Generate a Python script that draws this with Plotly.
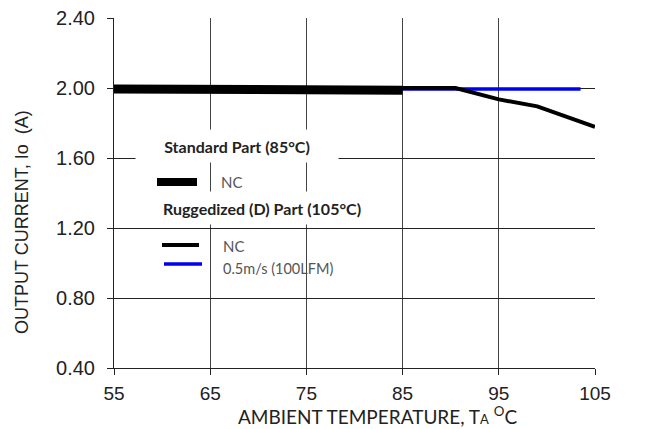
import plotly.graph_objects as go

# Datos de las curvas (temperatura ambiente en °C, corriente de salida en A)
std_temp = [55, 65, 75, 85]
std_io = [1.995, 1.992, 1.99, 1.987]

nc_temp = [55, 85, 90.5, 95, 99, 105]
nc_io = [2.0, 2.0, 2.0, 1.935, 1.895, 1.778]

air_temp = [55, 85, 103.5]
air_io = [1.995, 1.995, 1.995]

x_ticks = [55, 65, 75, 85, 95, 105]
y_ticks = [0.40, 0.80, 1.20, 1.60, 2.00, 2.40]
y_labels = ["0.40", "0.80", "1.20", "1.60", "2.00", "2.40"]

W, H = 657, 429
PL, PT, PW, PH = 114, 18, 481, 350   # área de trazado en píxeles


def px(x):
    return (x - PL) / PW


def py(y):
    return (PT + PH - y) / PH


fig = go.Figure()

fig.add_trace(go.Scatter(x=air_temp, y=air_io, mode='lines',
                         line=dict(color='#0000ee', width=3.5), showlegend=False))
fig.add_trace(go.Scatter(x=nc_temp, y=nc_io, mode='lines',
                         line=dict(color='black', width=4), showlegend=False))
fig.add_trace(go.Scatter(x=std_temp, y=std_io, mode='lines',
                         line=dict(color='black', width=9), showlegend=False))

# Leyenda dibujada a mano
title_font = dict(family='Lato', size=16, color='#222')
item_font = dict(family='Lato', size=15, color='#555')

annotations = [
    dict(x=px(237), y=py(146), text='<b>Standard Part (85°C)</b>', width=200, height=30,
         font=title_font, bgcolor='white'),
    dict(x=px(262), y=py(208), text='<b>Ruggedized (D) Part (105°C)</b>', width=210, height=30,
         font=title_font, bgcolor='white'),
    dict(x=px(219), y=py(182), text='NC', xanchor='left', font=item_font),
    dict(x=px(221), y=py(246), text='NC', xanchor='left', font=item_font),
    dict(x=px(221), y=py(268), text='0.5m/s (100LFM)', xanchor='left',
         font=dict(family='Lato', size=14.5, color='#555')),
    dict(x=px(22), y=py(222), textangle=-90,
         text='OUTPUT CURRENT, Io  (A)',
         font=dict(family='Liberation Sans', size=18, color='#222')),
    dict(x=px(377), y=py(415),
         text='AMBIENT TEMPERATURE, T<span style="font-size:13px">A</span> <sup>O</sup>C',
         font=dict(family='Lato', size=19, color='#222')),
]
for a in annotations:
    a.setdefault('xref', 'paper')
    a.setdefault('yref', 'paper')
    a.setdefault('xanchor', 'center')
    a.setdefault('yanchor', 'middle')
    a.setdefault('showarrow', False)
    fig.add_annotation(**a)

samples = [
    (157, 197, 182, 8, 'black'),
    (162, 199, 245, 4, 'black'),
    (164, 202, 264, 3.5, '#0000ee'),
]
for x0, x1, y0, w, c in samples:
    fig.add_shape(type='line', xref='paper', yref='paper',
                  x0=px(x0), x1=px(x1), y0=py(y0), y1=py(y0),
                  line=dict(color=c, width=w))

fig.update_layout(
    width=W, height=H,
    margin=dict(l=PL, r=W - PL - PW, t=PT, b=H - PT - PH, autoexpand=False),
    paper_bgcolor='white', plot_bgcolor='white',
    font=dict(family='Liberation Sans', size=19, color='#222'),
)
fig.update_xaxes(range=[55, 105], tickvals=x_ticks, ticks='outside', ticklen=6,
                 tickcolor='#222', showline=True, linecolor='#222', linewidth=1,
                 showgrid=True, gridcolor='#444', gridwidth=1, zeroline=False,
                 ticklabelstandoff=2, tickfont=dict(size=19))
fig.update_yaxes(range=[0.40, 2.40], tickvals=y_ticks, ticktext=y_labels,
                 ticks='outside', ticklen=6, tickcolor='#222', showline=True,
                 linecolor='#222', linewidth=1, showgrid=True, gridcolor='#222',
                 gridwidth=1, zeroline=False, ticklabelstandoff=8,
                 tickfont=dict(size=20))

# Quitar el margen por defecto del body para que la figura ocupe toda la ventana
fig.write_html("out.html", config={'displayModeBar': False},
               post_script="document.body.style.margin='0';")
